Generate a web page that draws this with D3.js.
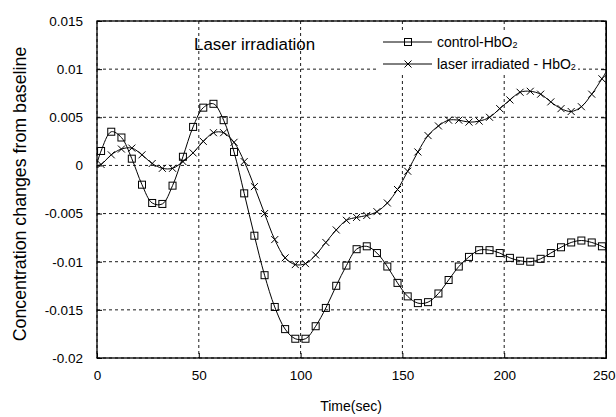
<!DOCTYPE html>
<html>
<head>
<meta charset="utf-8">
<script src="https://cdn.jsdelivr.net/npm/d3@7"></script>
<style>
  body { margin: 0; background: #fff; }
  text { font-family: "Liberation Sans", Arial, sans-serif; fill: #000; }
</style>
</head>
<body>
<svg id="chart" width="616" height="417"></svg>
<script>
// time axis (sec): first and last entries are only line ends, others carry markers
const times = [0, 2.0, 7.0, 12.0, 17.1, 22.1, 27.1, 32.1, 37.1, 42.2, 47.2, 52.2, 57.2, 62.2, 67.3,
    72.3, 77.3, 82.3, 87.3, 92.4, 97.4, 102.4, 107.4, 112.4, 117.5, 122.5, 127.5, 132.5, 137.5,
    142.6, 147.6, 152.6, 157.6, 162.6, 167.7, 172.7, 177.7, 182.7, 187.7, 192.8, 197.8, 202.8,
    207.8, 212.8, 217.9, 222.9, 227.9, 232.9, 237.9, 243.0, 248.0, 250];

const controlHbO2 = [0.0002, 0.0015, 0.0035, 0.0029, 0.0007, -0.0020, -0.0039, -0.0040, -0.0021,
    0.0009, 0.0040, 0.0060, 0.0064, 0.0047, 0.0014, -0.0029, -0.0073, -0.0114, -0.0147, -0.0170,
    -0.0180, -0.0180, -0.0167, -0.0148, -0.0125, -0.0104, -0.0087, -0.0084, -0.0091, -0.0105,
    -0.0122, -0.0136, -0.0143, -0.0142, -0.0133, -0.0119, -0.0105, -0.0095, -0.0088, -0.0088,
    -0.0091, -0.0096, -0.0099, -0.0100, -0.0097, -0.0091, -0.0085, -0.0080, -0.0078, -0.0080,
    -0.0084, -0.0086];

const laserHbO2 = [0, 0.0001, 0.0011, 0.0017, 0.0018, 0.0011, 0.0002, -0.0003, -0.0003, 0.0004,
    0.0013, 0.0025, 0.0034, 0.0034, 0.0024, 0.0004, -0.0022, -0.0050, -0.0077, -0.0096, -0.0103,
    -0.0102, -0.0093, -0.0080, -0.0067, -0.0057, -0.0054, -0.0052, -0.0048, -0.0039, -0.0025,
    -0.0006, 0.0014, 0.0031, 0.0041, 0.0047, 0.0047, 0.0045, 0.0046, 0.0050, 0.0059, 0.0068,
    0.0076, 0.0077, 0.0074, 0.0066, 0.0059, 0.0056, 0.0061, 0.0074, 0.0090, 0.0097];

const xTicks = [0, 50, 100, 150, 200, 250];
const yTicks = [0.015, 0.01, 0.005, 0, -0.005, -0.01, -0.015, -0.02];
const yTickLabels = ["0.015", "0.01", "0.005", "0", "-0.005", "-0.01", "-0.015", "-0.02"];

const svg = d3.select("#chart");
const margin = { top: 21, right: 10, bottom: 59, left: 97 };
const width = 616 - margin.left - margin.right;
const height = 417 - margin.top - margin.bottom;

const chart = svg.append("g")
    .attr("transform", `translate(${margin.left},${margin.top})`);

const xScale = d3.scaleLinear().domain([0, 250]).range([0, width]);
const yScale = d3.scaleLinear().domain([-0.02, 0.015]).range([height, 0]);

// 网格
chart.append("g")
    .selectAll("line")
    .data(yTicks)
    .join("line")
    .attr("x1", 0).attr("x2", width)
    .attr("y1", d => yScale(d)).attr("y2", d => yScale(d))
    .attr("stroke", "#000").attr("stroke-width", 0.9)
    .attr("stroke-dasharray", "3,3");

chart.append("g")
    .selectAll("line")
    .data(xTicks)
    .join("line")
    .attr("x1", d => xScale(d)).attr("x2", d => xScale(d))
    .attr("y1", 0).attr("y2", height)
    .attr("stroke", "#000").attr("stroke-width", 0.9)
    .attr("stroke-dasharray", "3,3");

// axes
const yAxis = chart.append("g")
    .call(d3.axisLeft(yScale).tickValues(yTicks)
        .tickFormat((d, i) => yTickLabels[i]).tickSize(-5).tickPadding(14));
const xAxis = chart.append("g")
    .attr("transform", `translate(0,${height})`)
    .call(d3.axisBottom(xScale).tickValues(xTicks).tickSize(-5).tickPadding(12));
chart.append("g")
    .attr("transform", `translate(${width},0)`)
    .call(d3.axisRight(yScale).tickValues(yTicks).tickFormat("").tickSize(-5));

[yAxis, xAxis].forEach(a => {
    a.select(".domain").remove();
    a.selectAll("text").style("font-size", "13.5px")
        .style("font-family", "'Liberation Sans', Arial, sans-serif");
});
// keep the last x label inside the window
xAxis.selectAll("text").filter(d => d === 250)
    .attr("text-anchor", "end").attr("x", 9);

chart.append("rect")
    .attr("width", width).attr("height", height)
    .attr("fill", "none").attr("stroke", "#000").attr("stroke-width", 1.3);

// lines
const line = d3.line()
    .x((d, i) => xScale(times[i]))
    .y(d => yScale(d))
    .curve(d3.curveCatmullRom.alpha(0.5));

[controlHbO2, laserHbO2].forEach(series => {
    chart.append("path")
        .datum(series)
        .attr("fill", "none")
        .attr("stroke", "#000")
        .attr("stroke-width", 1)
        .attr("d", line);
});

function drawSquare(g, x, y) {
    g.append("rect")
        .attr("x", x - 3.5).attr("y", y - 3.5)
        .attr("width", 7).attr("height", 7)
        .attr("fill", "none").attr("stroke", "#000").attr("stroke-width", 1);
}

function drawCross(g, x, y) {
    g.append("path")
        .attr("d", `M${x - 3.5},${y - 3.5}L${x + 3.5},${y + 3.5}M${x - 3.5},${y + 3.5}L${x + 3.5},${y - 3.5}`)
        .attr("stroke", "#000").attr("stroke-width", 1);
}

const markers = chart.append("g");
for (let i = 1; i < times.length - 1; i++) {
    drawSquare(markers, xScale(times[i]), yScale(controlHbO2[i]));
    drawCross(markers, xScale(times[i]), yScale(laserHbO2[i]));
}

// legend (white box without border, hides the grid behind it)
const legend = svg.append("g");
legend.append("rect")
    .attr("x", 376).attr("y", 30).attr("width", 202).attr("height", 45)
    .attr("fill", "#fff");
const legendRows = [
    { label: "control-HbO", draw: drawSquare, y: 42 },
    { label: "laser irradiated - HbO", draw: drawCross, y: 64 }
];
legendRows.forEach(r => {
    legend.append("line")
        .attr("x1", 383).attr("x2", 432)
        .attr("y1", r.y).attr("y2", r.y)
        .attr("stroke", "#000").attr("stroke-width", 1);
    r.draw(legend, 408, r.y);
    const t = legend.append("text")
        .attr("x", 437).attr("y", r.y + 5)
        .style("font-size", "14px");
    t.append("tspan").text(r.label);
    t.append("tspan").attr("dy", 1).style("font-size", "9px").text("2");
});

svg.append("text")
    .attr("x", 194).attr("y", 50)
    .style("font-size", "16.9px")
    .text("Laser irradiation");

svg.append("text")
    .attr("x", 351).attr("y", 411)
    .attr("text-anchor", "middle")
    .style("font-size", "14px")
    .text("Time(sec)");

svg.append("text")
    .attr("transform", "translate(26,194) rotate(-90)")
    .attr("text-anchor", "middle")
    .style("font-size", "17.8px")
    .text("Concentration changes from baseline");
</script>
</body>
</html>
